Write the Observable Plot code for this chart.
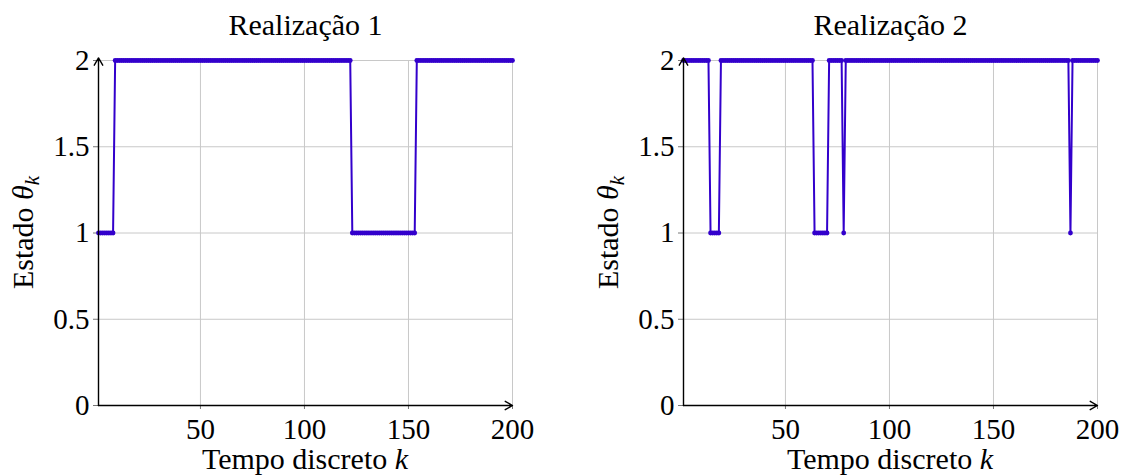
<!DOCTYPE html>
<html>
<head>
<meta charset="utf-8">
<script src="https://cdn.jsdelivr.net/npm/d3@7"></script>
<script src="https://cdn.jsdelivr.net/npm/@observablehq/plot@0.6"></script>
<style>
  html, body { margin: 0; padding: 0; background: #fff; }
  #wrap { display: flex; flex-direction: row; width: 1123px; height: 476px; }
</style>
</head>
<body>
<div id="wrap"></div>
<script>
// ---- data ----
const titles = ["Realização 1", "Realização 2"];
// runs of constant state: [first k, last k, state]
const runs1 = [[1, 8, 1], [9, 122, 2], [123, 153, 1], [154, 200, 2]];
const runs2 = [[1, 13, 2], [14, 18, 1], [19, 63, 2], [64, 70, 1], [71, 77, 2], [78, 78, 1], [79, 186, 2], [187, 187, 1], [188, 200, 2]];
const xTicks = [50, 100, 150, 200];
const yTicks = [0, 0.5, 1, 1.5, 2];
const xDomain = [1, 200];
const yDomain = [0, 2];

function expand(runs) {
  const out = [];
  for (const [a, b, v] of runs) for (let k = a; k <= b; k++) out.push({k, v});
  return out;
}
const series = [expand(runs1), expand(runs2)];

const color = "#3300cc";
const font = "'Liberation Serif', 'Times New Roman', serif";
const fs = 29;
const fsTitle = 30;

function panel(data, title, width, mL, mR) {
  const svg = Plot.plot({
    width, height: 476,
    marginLeft: mL, marginRight: mR, marginTop: 60, marginBottom: 71,
    style: {fontFamily: font, fontSize: fs + "px", background: "white", overflow: "visible"},
    x: {domain: xDomain},
    y: {domain: yDomain},
    marks: [
      Plot.gridX(xTicks, {stroke: "#c8c8c8", strokeOpacity: 1}),
      Plot.gridY(yTicks.filter(d => d > 0), {stroke: "#c8c8c8", strokeOpacity: 1}),
      Plot.axisX({ticks: xTicks, tickSize: 4, tickPadding: 9, stroke: "#777", fill: "black", fontSize: fs, label: null}),
      Plot.axisY({ticks: yTicks, tickSize: 5, tickPadding: 4, stroke: "#777", fill: "black", fontSize: fs, label: null, tickFormat: d => String(d)}),
      Plot.line(data, {x: "k", y: "v", stroke: color, strokeWidth: 2}),
      Plot.dot(data, {x: "k", y: "v", r: 2.4, fill: color, stroke: "none"}),
      Plot.arrow([{a: xDomain[0], b: yDomain[0]}], {x1: "a", y1: "b", x2: "a", y2: () => yDomain[1] + 0.015, stroke: "black", strokeWidth: 1.4, headLength: 9}),
      Plot.arrow([{a: xDomain[0], b: yDomain[0]}], {x1: "a", y1: "b", x2: () => xDomain[1], y2: "b", stroke: "black", strokeWidth: 1.4, headLength: 9}),
      Plot.text([title], {frameAnchor: "top", dy: -35, text: d => d, fontSize: fsTitle, fill: "black", lineAnchor: "middle"})
    ]
  });
  const s = d3.select(svg);
  const cx = (mL + (width - mR)) / 2;
  const cy = (60 + (476 - 71)) / 2;
  // x label
  const tx = s.append("text")
    .attr("x", cx).attr("y", 469)
    .attr("text-anchor", "middle")
    .attr("font-family", font).attr("font-size", fsTitle).attr("fill", "black");
  tx.append("tspan").text("Tempo discreto ");
  tx.append("tspan").attr("font-style", "italic").text("k");
  // y label
  const ty = s.append("text")
    .attr("transform", `translate(${mL - 65},${cy}) rotate(-90)`)
    .attr("text-anchor", "middle")
    .attr("font-family", font).attr("font-size", fsTitle).attr("fill", "black");
  ty.append("tspan").text("Estado ");
  ty.append("tspan").attr("font-style", "italic").text("θ");
  ty.append("tspan").attr("font-style", "italic").attr("font-size", fsTitle * 0.7).attr("dy", 6).text("k");
  return svg;
}

const wrap = document.getElementById("wrap");
wrap.appendChild(panel(series[0], titles[0], 561, 98, 49));
wrap.appendChild(panel(series[1], titles[1], 562, 122, 26));
</script>
</body>
</html>
